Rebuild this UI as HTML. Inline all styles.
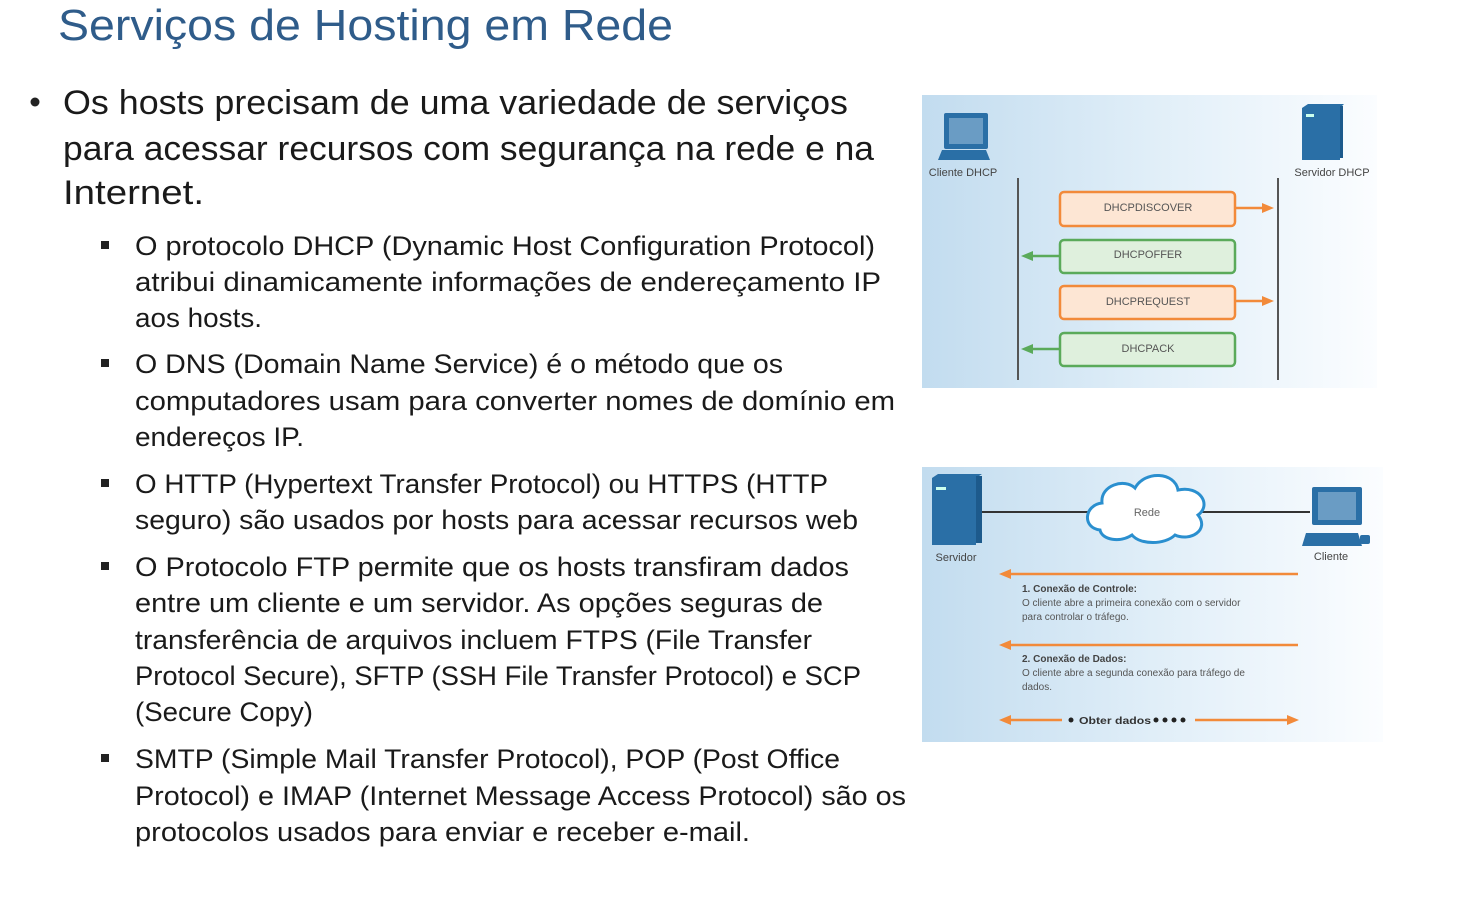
<!DOCTYPE html>
<html><head><meta charset="utf-8"><style>
html,body{margin:0;padding:0;background:#fff;}
svg{display:block;}
</style></head><body>
<svg width="1479" height="911" viewBox="0 0 1479 911" xmlns="http://www.w3.org/2000/svg" font-family="Liberation Sans, sans-serif">
<defs>
<linearGradient id="bg" x1="0" y1="0" x2="1" y2="0">
<stop offset="0" stop-color="#c2dcef"/><stop offset="0.5" stop-color="#e0eef8"/><stop offset="1" stop-color="#fbfdff"/>
</linearGradient>
</defs>
<text x="58" y="40" font-size="44" fill="#2f5c8a" textLength="615" lengthAdjust="spacingAndGlyphs">Serviços de Hosting em Rede</text>
<circle cx="35" cy="102" r="4.5" fill="#222"/>
<g font-size="34" fill="#1a1a1a">
<text x="63" y="114" textLength="785" lengthAdjust="spacingAndGlyphs">Os hosts precisam de uma variedade de serviços</text>
<text x="63" y="160" textLength="811" lengthAdjust="spacingAndGlyphs">para acessar recursos com segurança na rede e na</text>
<text x="63" y="204" textLength="141" lengthAdjust="spacingAndGlyphs">Internet.</text>
</g>
<g fill="#222">
<rect x="101" y="241" width="8" height="8"/><rect x="101" y="359" width="8" height="8"/><rect x="101" y="479" width="8" height="8"/><rect x="101" y="562" width="8" height="8"/><rect x="101" y="754" width="8" height="8"/>
</g>
<g font-size="27" fill="#1a1a1a">
<text x="135" y="255" textLength="740" lengthAdjust="spacingAndGlyphs">O protocolo DHCP (Dynamic Host Configuration Protocol)</text>
<text x="135" y="291" textLength="746" lengthAdjust="spacingAndGlyphs">atribui dinamicamente informações de endereçamento  IP</text>
<text x="135" y="327" textLength="127" lengthAdjust="spacingAndGlyphs">aos hosts.</text>
<text x="135" y="373" textLength="648" lengthAdjust="spacingAndGlyphs">O DNS (Domain Name Service) é o método que os</text>
<text x="135" y="410" textLength="760" lengthAdjust="spacingAndGlyphs">computadores usam para converter nomes de domínio em</text>
<text x="135" y="446" textLength="169" lengthAdjust="spacingAndGlyphs">endereços IP.</text>
<text x="135" y="493" textLength="693" lengthAdjust="spacingAndGlyphs">O HTTP (Hypertext Transfer Protocol) ou HTTPS (HTTP</text>
<text x="135" y="529" textLength="723" lengthAdjust="spacingAndGlyphs">seguro) são usados por hosts para acessar recursos web</text>
<text x="135" y="576" textLength="714" lengthAdjust="spacingAndGlyphs">O Protocolo FTP permite que os hosts transfiram dados</text>
<text x="135" y="612" textLength="688" lengthAdjust="spacingAndGlyphs">entre um cliente e um servidor. As opções seguras de</text>
<text x="135" y="649" textLength="677" lengthAdjust="spacingAndGlyphs">transferência de arquivos incluem FTPS (File Transfer</text>
<text x="135" y="685" textLength="726" lengthAdjust="spacingAndGlyphs">Protocol Secure), SFTP (SSH File Transfer Protocol) e SCP</text>
<text x="135" y="721" textLength="178" lengthAdjust="spacingAndGlyphs">(Secure Copy)</text>
<text x="135" y="768" textLength="705" lengthAdjust="spacingAndGlyphs">SMTP (Simple Mail Transfer Protocol), POP (Post Office</text>
<text x="135" y="805" textLength="771" lengthAdjust="spacingAndGlyphs">Protocol) e IMAP (Internet Message Access Protocol) são os</text>
<text x="135" y="841" textLength="615" lengthAdjust="spacingAndGlyphs">protocolos usados para enviar e receber e-mail.</text>
</g>

<!-- Diagram 1 -->
<rect x="922" y="95" width="455" height="293" fill="url(#bg)"/>
<g fill="#2a6fa6">
<rect x="944" y="113" width="44" height="36" rx="2"/>
<rect x="949" y="118" width="34" height="26" fill="#6a9cc4"/>
<polygon points="938,160 990,160 986,150 942,150"/>
<rect x="1302" y="108" width="38" height="52"/>
<polygon points="1302,108 1308,104 1344,104 1340,108"/>
<rect x="1340" y="106" width="3" height="52" fill="#1d5a8c"/>
<rect x="1306" y="114" width="8" height="3" fill="#cfe"/>
</g>
<g font-size="11" fill="#444" text-anchor="middle">
<text x="963" y="176">Cliente DHCP</text>
<text x="1332" y="176">Servidor DHCP</text>
</g>
<g stroke="#555" stroke-width="2"><line x1="1018" y1="178" x2="1018" y2="380"/><line x1="1278" y1="178" x2="1278" y2="380"/></g>
<g stroke-width="2.5">
<rect x="1060" y="192" width="175" height="34" rx="4" fill="#fde6d4" stroke="#f28a3a"/>
<rect x="1060" y="240" width="175" height="33" rx="4" fill="#dff0dd" stroke="#5aaa5a"/>
<rect x="1060" y="286" width="175" height="33" rx="4" fill="#fde6d4" stroke="#f28a3a"/>
<rect x="1060" y="333" width="175" height="33" rx="4" fill="#dff0dd" stroke="#5aaa5a"/>
<line x1="1235" y1="208" x2="1266" y2="208" stroke="#f28a3a"/>
<line x1="1235" y1="301" x2="1266" y2="301" stroke="#f28a3a"/>
<line x1="1060" y1="256" x2="1030" y2="256" stroke="#5aaa5a"/>
<line x1="1060" y1="349" x2="1030" y2="349" stroke="#5aaa5a"/>
</g>
<g fill="#f28a3a"><polygon points="1274,208 1262,203 1262,213"/><polygon points="1274,301 1262,296 1262,306"/></g>
<g fill="#5aaa5a"><polygon points="1021,256 1033,251 1033,261"/><polygon points="1021,349 1033,344 1033,354"/></g>
<g font-size="11" fill="#555" text-anchor="middle">
<text x="1148" y="211">DHCPDISCOVER</text>
<text x="1148" y="258">DHCPOFFER</text>
<text x="1148" y="305">DHCPREQUEST</text>
<text x="1148" y="352">DHCPACK</text>
</g>

<!-- Diagram 2 -->
<rect x="922" y="467" width="461" height="275" fill="url(#bg)"/>
<line x1="982" y1="512" x2="1310" y2="512" stroke="#333" stroke-width="2"/>
<g fill="#2a6fa6">
<rect x="932" y="478" width="44" height="67"/>
<polygon points="932,478 938,474 982,474 976,478"/>
<rect x="976" y="476" width="6" height="67" fill="#1d5a8c"/>
<rect x="936" y="487" width="10" height="3" fill="#cfe"/>
<rect x="1312" y="487" width="50" height="38" rx="2"/>
<rect x="1318" y="492" width="38" height="28" fill="#6a9cc4"/>
<polygon points="1302,546 1362,546 1358,533 1306,533"/>
<rect x="1360" y="535" width="10" height="9" rx="2"/>
</g>
<path d="M1100,530 C1082,528 1084,505 1102,503 C1100,485 1125,478 1135,488 C1145,470 1175,472 1178,490 C1200,485 1212,505 1198,515 C1210,530 1190,542 1175,535 C1165,545 1140,545 1132,535 C1120,543 1102,540 1100,530 Z" fill="#fff" stroke="#2a8fcf" stroke-width="3"/>
<text x="1147" y="516" font-size="11" fill="#666" text-anchor="middle">Rede</text>
<g font-size="11" fill="#444" text-anchor="middle">
<text x="956" y="561">Servidor</text>
<text x="1331" y="560">Cliente</text>
</g>
<g stroke="#f28a3a" stroke-width="2.5">
<line x1="1008" y1="574" x2="1298" y2="574"/>
<line x1="1008" y1="645" x2="1298" y2="645"/>
<line x1="1008" y1="720" x2="1062" y2="720"/>
<line x1="1195" y1="720" x2="1290" y2="720"/>
</g>
<g fill="#f28a3a">
<polygon points="999,574 1011,569 1011,579"/><polygon points="999,645 1011,640 1011,650"/>
<polygon points="999,720 1011,715 1011,725"/><polygon points="1299,720 1287,715 1287,725"/>
</g>
<g font-size="10" fill="#555">
<text x="1022" y="592" font-weight="bold" fill="#444">1. Conexão de Controle:</text>
<text x="1022" y="606">O cliente abre a primeira conexão com o servidor</text>
<text x="1022" y="620">para controlar o tráfego.</text>
<text x="1022" y="662" font-weight="bold" fill="#444">2. Conexão de Dados:</text>
<text x="1022" y="676">O cliente abre a segunda conexão para tráfego de</text>
<text x="1022" y="690">dados.</text>
</g>
<g fill="#222">
<circle cx="1071" cy="720" r="2.5"/>
<circle cx="1156" cy="720" r="2.5"/><circle cx="1165" cy="720" r="2.5"/><circle cx="1174" cy="720" r="2.5"/><circle cx="1183" cy="720" r="2.5"/>
</g>
<text x="1079" y="724" font-size="10.5" font-weight="bold" fill="#333" textLength="72" lengthAdjust="spacingAndGlyphs">Obter dados</text>
</svg>
</body></html>
